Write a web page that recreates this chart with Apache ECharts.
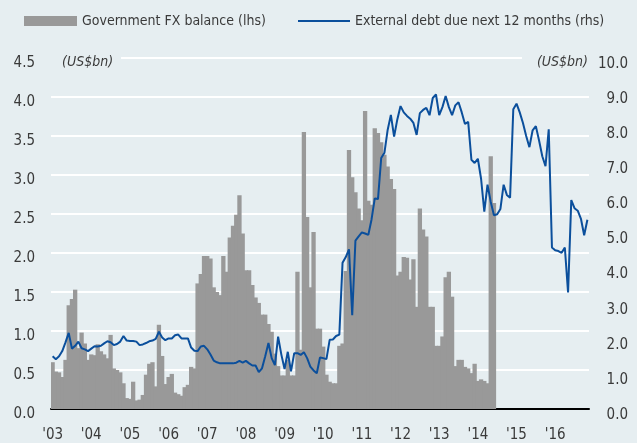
<!DOCTYPE html>
<html>
<head>
<meta charset="utf-8">
<script src="https://cdn.jsdelivr.net/npm/echarts@6/dist/echarts.min.js"></script>
<style>
  html, body { margin: 0; padding: 0; background: #e6eef1; }
  #chart { width: 637px; height: 443px; }
</style>
</head>
<body>
<div id="chart"></div>
<script>
const years = ["03", "04", "05", "06", "07", "08", "09", "10", "11", "12", "13", "14", "15", "16"];
const lastMonthCount = 11; // series runs to Nov 2016

// Government FX balance, US$bn, monthly from Jan 2003 (lhs)
const fxBalance = [
  0.60, 0.48, 0.47, 0.41, 0.63, 1.33, 1.41, 1.53, 0.78, 0.98, 0.84, 0.63,
  0.70, 0.69, 0.83, 0.74, 0.70, 0.65, 0.95, 0.52, 0.50, 0.47, 0.33, 0.14,
  0.13, 0.35, 0.11, 0.12, 0.18, 0.44, 0.58, 0.60, 0.29, 1.08, 0.68, 0.32,
  0.41, 0.45, 0.21, 0.19, 0.17, 0.28, 0.31, 0.54, 0.52, 1.61, 1.73, 1.96,
  1.96, 1.93, 1.56, 1.50, 1.46, 1.96, 1.76, 2.20, 2.35, 2.49, 2.74, 2.25,
  1.78, 1.78, 1.59, 1.43, 1.36, 1.21, 1.21, 1.09, 0.99, 0.71, 0.55, 0.43,
  0.43, 0.63, 0.43, 0.43, 1.76, 0.76, 3.55, 2.46, 1.56, 2.27, 1.03, 1.03,
  0.80, 0.44, 0.35, 0.33, 0.33, 0.81, 0.84, 1.77, 3.32, 2.97, 2.78, 2.57,
  2.42, 3.82, 2.67, 2.62, 3.60, 3.54, 3.42, 3.26, 3.11, 2.95, 2.82, 1.71,
  1.76, 1.95, 1.94, 1.66, 1.92, 1.31, 2.57, 2.30, 2.21, 1.31, 1.31, 0.81,
  0.81, 0.93, 1.69, 1.76, 1.44, 0.55, 0.63, 0.63, 0.54, 0.52, 0.46, 0.58,
  0.36, 0.38, 0.36, 0.33, 3.24, 2.64
];

// External debt due next 12 months, US$bn, monthly from Jan 2003 (rhs)
const externalDebt = [
  1.50, 1.42, 1.50, 1.65, 1.90, 2.17, 1.72, 1.80, 1.92, 1.73, 1.70, 1.65,
  1.72, 1.79, 1.78, 1.80, 1.87, 1.93, 1.90, 1.82, 1.85, 1.92, 2.08, 1.95,
  1.94, 1.94, 1.92, 1.82, 1.84, 1.88, 1.93, 1.95, 2.00, 2.20, 2.04, 1.96,
  2.01, 2.01, 2.10, 2.12, 2.01, 2.01, 2.01, 1.75, 1.66, 1.65, 1.78, 1.80,
  1.70, 1.55, 1.38, 1.33, 1.30, 1.30, 1.30, 1.30, 1.30, 1.32, 1.37, 1.32,
  1.37, 1.30, 1.24, 1.24, 1.05, 1.16, 1.50, 1.88, 1.45, 1.25, 2.06, 1.55,
  1.14, 1.63, 1.07, 1.59, 1.59, 1.54, 1.62, 1.45, 1.21, 1.10, 1.02, 1.47,
  1.45, 1.42, 1.97, 1.98, 2.08, 2.12, 4.17, 4.33, 4.55, 2.67, 4.80, 4.92,
  5.03, 5.00, 4.96, 5.40, 6.00, 5.98, 7.15, 7.30, 7.95, 8.38, 7.76, 8.25,
  8.63, 8.45, 8.35, 8.27, 8.15, 7.81, 8.43, 8.52, 8.58, 8.37, 8.86, 8.96,
  8.37, 8.60, 8.92, 8.60, 8.37, 8.65, 8.74, 8.45, 8.12, 8.18, 7.10, 7.01,
  7.13, 6.56, 5.62, 6.39, 5.90, 5.52, 5.55, 5.70, 6.39, 6.10, 6.02, 8.54,
  8.70, 8.45, 8.15, 7.78, 7.46, 7.94, 8.06, 7.65, 7.20, 6.92, 7.97, 4.60,
  4.52, 4.50, 4.45, 4.60, 3.32, 5.95, 5.72, 5.65, 5.42, 4.95, 5.39
];

const BG = "#e6eef1";
const FONT = "'DejaVu Sans Condensed', 'Liberation Sans', sans-serif";
const TEXT = "#3a3a3a";

const months = [];
years.forEach((yy, i) => {
  const n = i === years.length - 1 ? lastMonthCount : 12;
  for (let m = 0; m < n; m++) months.push(yy + "-" + (m + 1));
});

const chart = echarts.init(document.getElementById("chart"));
chart.setOption({
  backgroundColor: BG,
  animation: false,
  textStyle: { fontFamily: FONT },
  legend: [
    {
      data: ["Government FX balance (lhs)"],
      left: 24,
      top: 14,
      padding: 0,
      icon: "rect",
      itemWidth: 53,
      itemHeight: 10,
      textStyle: { color: TEXT, fontSize: 14, fontFamily: FONT },
    },
    {
      data: ["External debt due next 12 months (rhs)"],
      left: 298,
      top: 14,
      padding: 0,
      icon: "rect",
      itemWidth: 52,
      itemHeight: 2,
      textStyle: { color: TEXT, fontSize: 14, fontFamily: FONT },
    },
  ],
  grid: { left: 51, right: 48, top: 58, bottom: 30 },
  xAxis: {
    type: "category",
    data: months,
    boundaryGap: true,
    axisLine: { lineStyle: { color: "#000", width: 2 } },
    axisTick: {
      interval: (idx) => idx % 12 === 0,
      length: 5,
      lineStyle: { color: "#000", width: 1.5 },
    },
    axisLabel: {
      interval: (idx) => idx % 12 === 0,
      formatter: (v) => "'" + v.split("-")[0],
      color: TEXT,
      fontSize: 15,
      fontFamily: FONT,
      margin: 19,
    },
    splitLine: { show: false },
  },
  yAxis: [
    {
      type: "value",
      min: 0,
      max: 4.5,
      interval: 0.5,
      axisLine: { show: false },
      axisTick: { show: false },
      axisLabel: {
        formatter: (v) => v.toFixed(1),
        color: TEXT,
        fontSize: 15,
        fontFamily: FONT,
        margin: 16,
        verticalAlign: "top",
        lineHeight: 10,
      },
      splitLine: { lineStyle: { color: "#ffffff", width: 2 } },
    },
    {
      type: "value",
      min: 0,
      max: 10,
      interval: 1,
      axisLine: { show: false },
      axisTick: { show: false },
      axisLabel: {
        formatter: (v) => v.toFixed(1),
        color: TEXT,
        fontSize: 15,
        fontFamily: FONT,
        margin: 39,
        align: "right",
        verticalAlign: "top",
        lineHeight: 12,
      },
      splitLine: { show: false },
    },
  ],
  graphic: [
    {
      type: "text",
      left: 51,
      top: 53,
      z: 10,
      style: {
        text: "(US$bn)",
        font: "italic 14px " + FONT,
        fill: TEXT,
        backgroundColor: BG,
        padding: [2, 8, 2, 11],
      },
    },
    {
      type: "text",
      right: 48,
      top: 53,
      z: 10,
      style: {
        text: "(US$bn)",
        font: "italic 14px " + FONT,
        fill: TEXT,
        backgroundColor: BG,
        padding: [2, 1, 2, 15],
      },
    },
  ],
  series: [
    {
      name: "Government FX balance (lhs)",
      type: "bar",
      yAxisIndex: 0,
      data: fxBalance,
      barWidth: 4.3,
      itemStyle: { color: "#999999" },
      z: 2,
    },
    {
      name: "External debt due next 12 months (rhs)",
      type: "line",
      yAxisIndex: 1,
      data: externalDebt,
      showSymbol: false,
      lineStyle: { color: "#0b4f9c", width: 2 },
      itemStyle: { color: "#0b4f9c" },
      z: 3,
    },
  ],
});
</script>
</body>
</html>
